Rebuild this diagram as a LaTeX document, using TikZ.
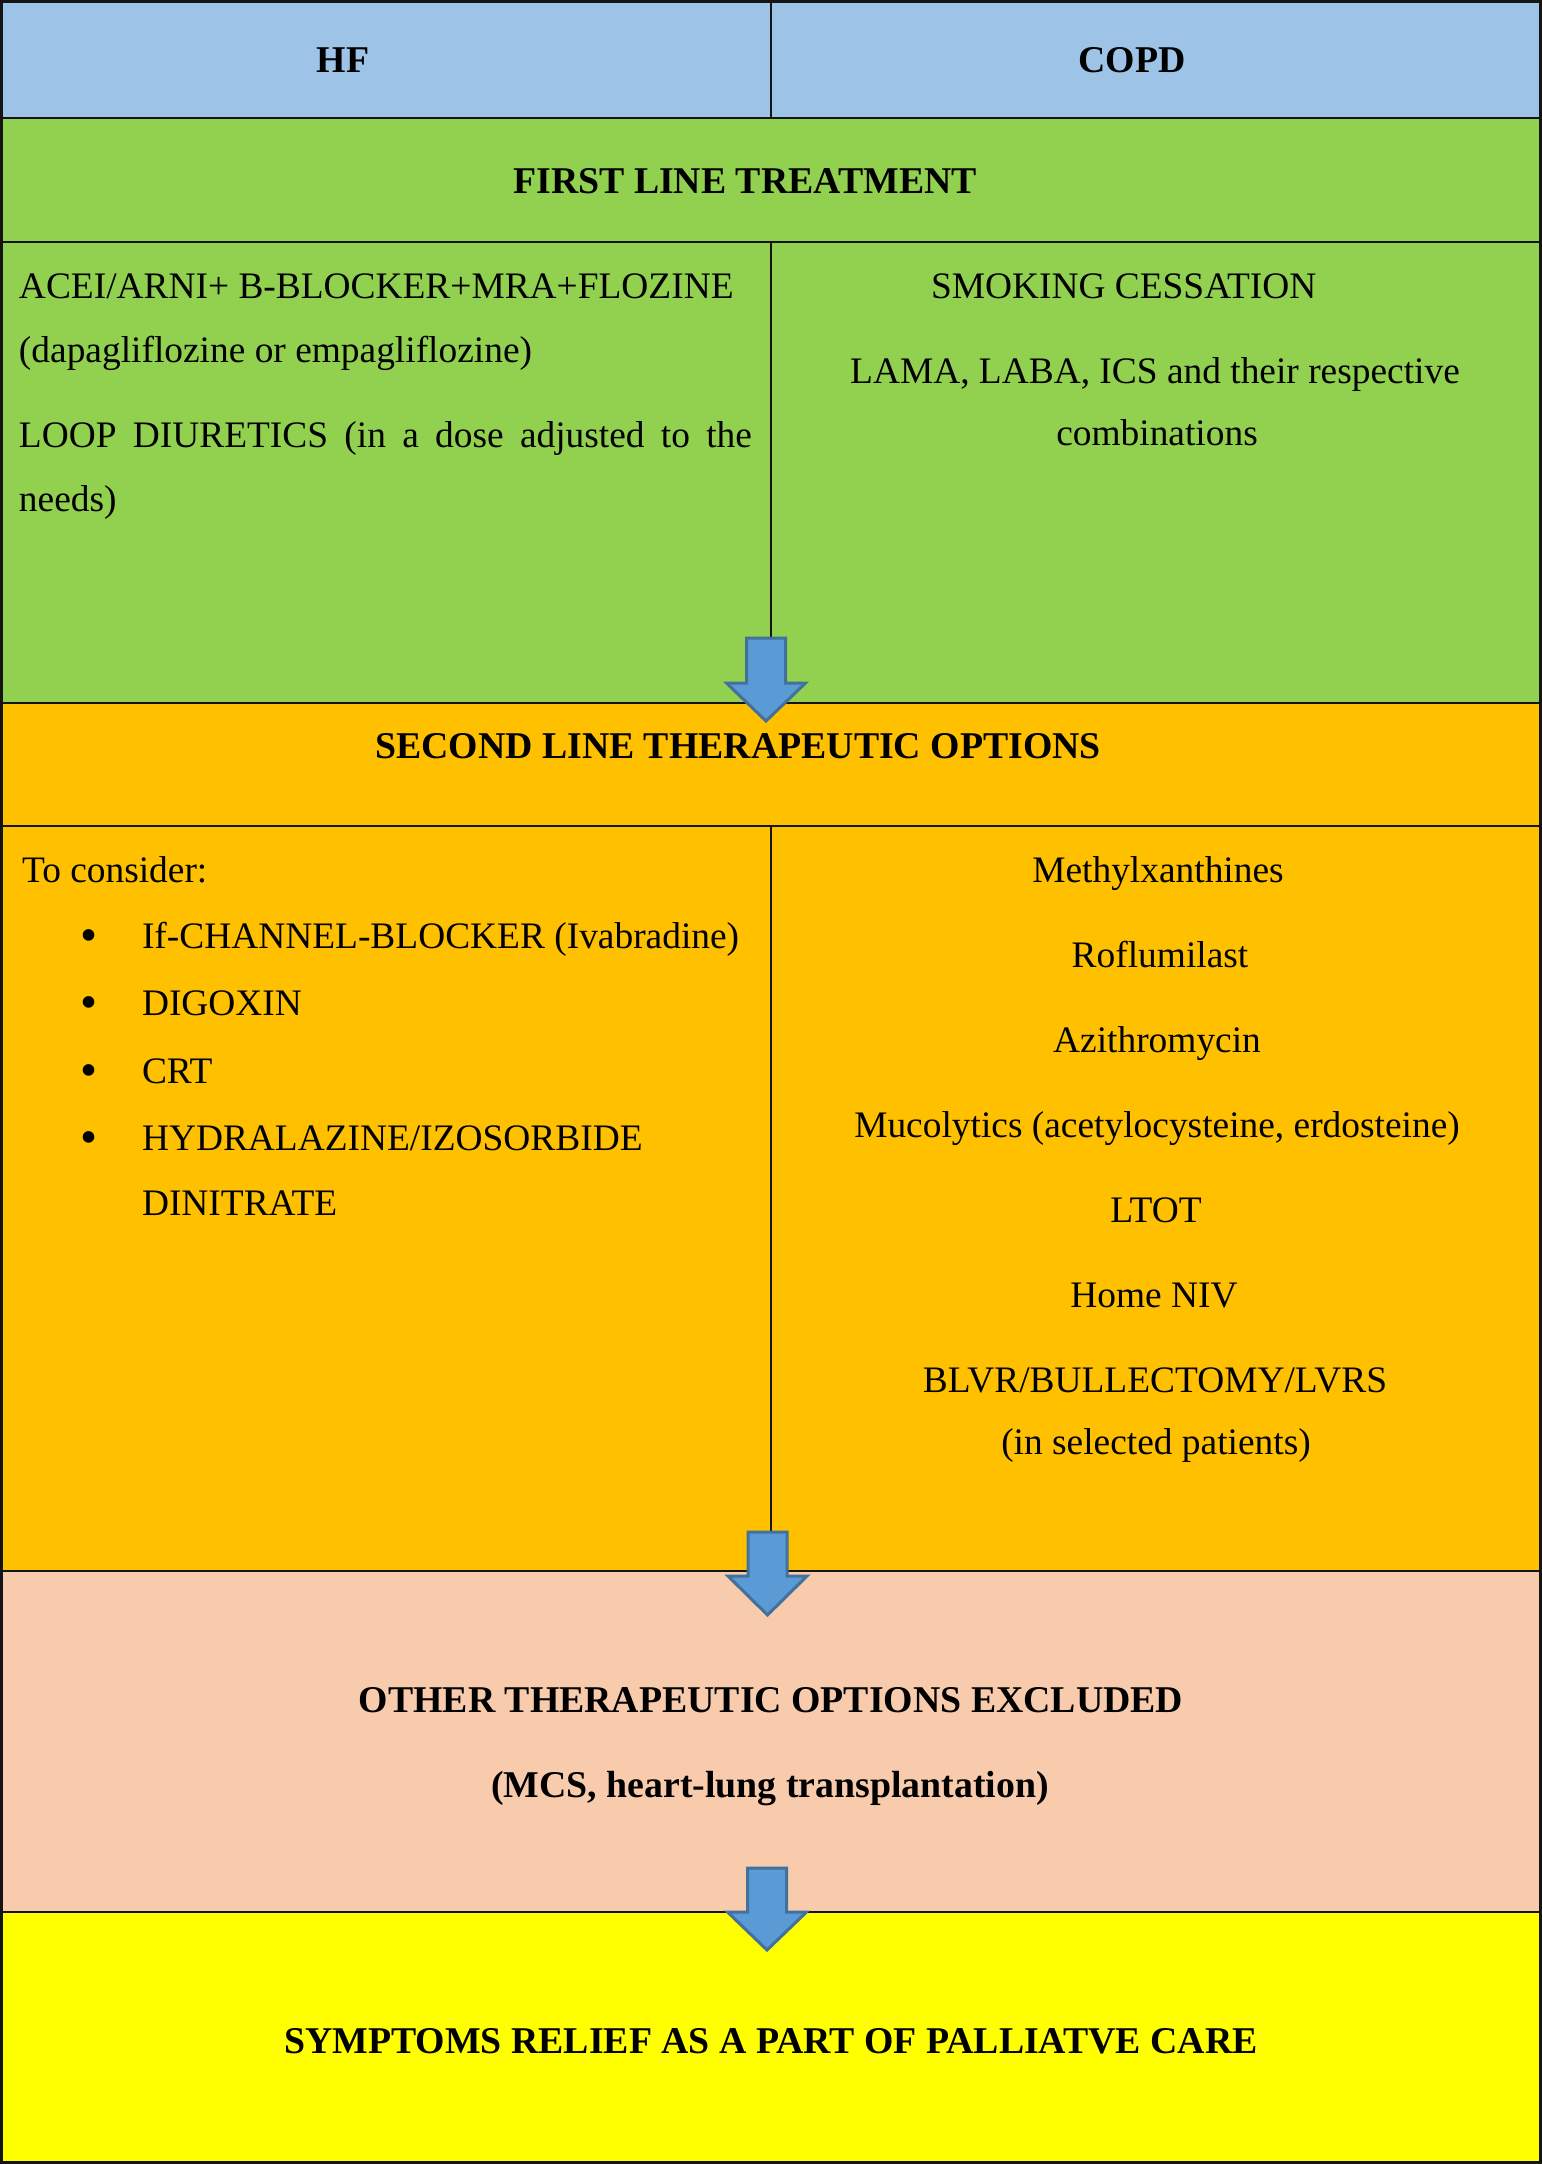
\documentclass[tikz,border=0pt]{standalone}
\usepackage{fontspec}
\setmainfont{Liberation Serif}
\definecolor{hdrblue}{HTML}{9DC3E6}
\definecolor{grn}{HTML}{92D050}
\definecolor{org}{HTML}{FFC000}
\definecolor{peach}{HTML}{F8CBAD}
\definecolor{ylw}{HTML}{FFFF00}
\definecolor{arrfill}{HTML}{5B9BD5}
\definecolor{arredge}{HTML}{41719C}
\definecolor{rule}{HTML}{141414}
\begin{document}
\begin{tikzpicture}[x=1pt,y=-1pt,
  txt/.style={inner sep=0pt,outer sep=0pt,font=\fontsize{37.4}{44}\selectfont},
  btxt/.style={txt,font=\fontsize{37.8}{44}\selectfont\bfseries},
  cell/.style={draw=rule,line width=2pt},
  blockarrow/.style={fill=arrfill,draw=arredge,line width=3pt,line join=miter}]
\useasboundingbox (0,0) rectangle (1542,2164);
% bands
\fill[hdrblue] (0,0) rectangle (1542,118);
\fill[grn] (0,118) rectangle (1542,703);
\fill[org] (0,703) rectangle (1542,1571);
\fill[peach] (0,1571) rectangle (1542,1912);
\fill[ylw] (0,1912) rectangle (1542,2164);
% rules
\draw[cell] (0,118) -- (1542,118);
\draw[cell] (0,242) -- (1542,242);
\draw[cell] (0,703) -- (1542,703);
\draw[cell] (0,826) -- (1542,826);
\draw[cell] (0,1571) -- (1542,1571);
\draw[cell] (0,1912) -- (1542,1912);
\draw[cell] (771,0) -- (771,118);
\draw[cell] (771,242) -- (771,703);
\draw[cell] (771,826) -- (771,1571);
\draw[draw=rule,line width=3pt] (1.5,1.5) rectangle (1540.5,2162.5);
% header
\node[btxt,anchor=base] (hf) at (343,72) {HF};
\node[btxt,anchor=base] (copd) at (1132,72) {COPD};
\node[btxt,anchor=base] (first) at (745,193) {FIRST LINE TREATMENT};
% first line content
\node[txt,anchor=base west] (acei) at (19,298) {ACEI/ARNI+ B-BLOCKER+MRA+FLOZINE};
\node[txt,anchor=base west] (dapa) at (19,362) {(dapagliflozine or empagliflozine)};
\node[txt,anchor=base west] (loop) at (19,447) {\makebox[733pt][s]{LOOP DIURETICS (in a dose adjusted to the}};
\node[txt,anchor=base west] (needs) at (19,511) {needs)};
\node[txt,anchor=base west] (smoke) at (931,298) {SMOKING CESSATION};
\node[txt,anchor=base] (lama) at (1155,383) {LAMA, LABA, ICS and their respective};
\node[txt,anchor=base] (comb) at (1157,445) {combinations};
% second line
\node[btxt,anchor=base] (second) at (738,758) {SECOND LINE THERAPEUTIC OPTIONS};
\node[txt,anchor=base west] (consider) at (22,882) {To consider:};
\foreach \nm/\yy/\tx in {b1/948/{If-CHANNEL-BLOCKER (Ivabradine)},b2/1015/{DIGOXIN},b3/1083/{CRT},b4/1150/{HYDRALAZINE\slash IZOSORBIDE}}{
  \node[txt,anchor=base] (\nm dot) at (89.3,\yy) {\raisebox{-3.8pt}{\scalebox{1.3}{\textbullet}}};
  \node[txt,anchor=base west] (\nm) at (142,\yy) {\tx};
}
\node[txt,anchor=base west] (b4b) at (142,1215) {DINITRATE};
\node[txt,anchor=base] (methyl) at (1158,882) {Methylxanthines};
\node[txt,anchor=base] (roflu) at (1160,967) {Roflumilast};
\node[txt,anchor=base] (azi) at (1157,1052) {Azithromycin};
\node[txt,anchor=base] (muco) at (1157,1137) {Mucolytics (acetylocysteine, erdosteine)};
\node[txt,anchor=base] (ltot) at (1156,1222) {LTOT};
\node[txt,anchor=base] (niv) at (1154,1307) {Home NIV};
\node[txt,anchor=base] (blvr) at (1155,1392) {BLVR/BULLECTOMY/LVRS};
\node[txt,anchor=base] (sel) at (1156,1454) {(in selected patients)};
% other
\node[btxt,anchor=base] (other) at (771,1712) {OTHER THERAPEUTIC OPTIONS EXCLUDED};
\node[btxt,anchor=base] (mcs) at (770,1797) {(MCS, heart-lung transplantation)};
\node[btxt,anchor=base] (symp) at (771,2053) {SYMPTOMS RELIEF AS A PART OF PALLIATVE CARE};
% block arrows
\draw[blockarrow] (746.5,638) -- (785.5,638) -- (785.5,683) -- (805.5,683) -- (766,721) -- (726.5,683) -- (746.5,683) -- cycle;
\draw[blockarrow] (748,1532) -- (787,1532) -- (787,1576) -- (807,1576) -- (767.5,1615) -- (728,1576) -- (748,1576) -- cycle;
\draw[blockarrow] (747.5,1868) -- (786.5,1868) -- (786.5,1912) -- (806.5,1912) -- (767,1950) -- (727.5,1912) -- (747.5,1912) -- cycle;
\end{tikzpicture}
\end{document}
